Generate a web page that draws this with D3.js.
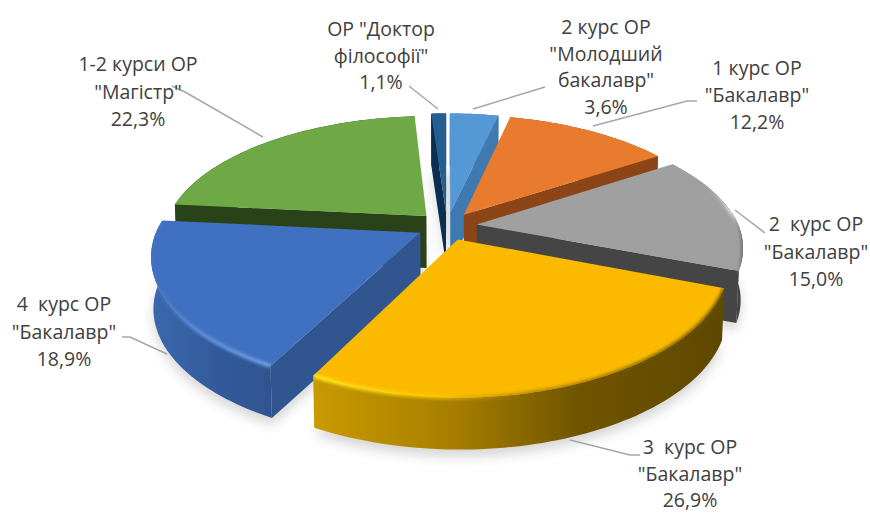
<!DOCTYPE html>
<html>
<head>
<meta charset="utf-8">
<script src="https://d3js.org/d3.v7.min.js"></script>
<style>
  html, body { margin: 0; background: #fff; }
  text { font-family: "Open Sans", sans-serif; font-size: 19.5px; fill: #404040; }
</style>
</head>
<body>
<div id="chart"></div>
<script>
// Values
const categories = ['2 курс ОР "Молодший бакалавр"', '1 курс ОР "Бакалавр"', '2 курс ОР "Бакалавр"',
  '3 курс ОР "Бакалавр"', '4 курс ОР "Бакалавр"', '1-2 курси ОР "Магістр"', 'ОР "Доктор філософії"'];
const shares = [3.6, 12.2, 15.0, 26.9, 18.9, 22.3, 1.1];
const labelLines = [
  ["2 курс ОР", "\"Молодший", "бакалавр\"", "3,6%"],
  ["1 курс ОР", "\"Бакалавр\"", "12,2%"],
  ["2  курс ОР", "\"Бакалавр\"", "15,0%"],
  ["3  курс ОР", "\"Бакалавр\"", "26,9%"],
  ["4  курс ОР", "\"Бакалавр\"", "18,9%"],
  ["1-2 курси ОР", "\"Магістр\"", "22,3%"],
  ["ОР \"Доктор", "філософії\"", "1,1%"]
];

// Styling per slice, same order as categories
const topColors = ["#5598d6", "#e97b2e", "#a0a0a0", "#fbba00", "#4070c0", "#6fa945", "#255e91"];
const wallColors = ["#3e79b0", "#8b4516", "#454545", "#9c7600", "#30558f", "#2a4218", "#0a2f52"];
const drawOrder = [6, 0, 5, 1, 2, 4, 3];

// Label placement: text centre, first baseline, leader points
const labelLayout = [
  { x: 606, y: 34, dy: 26.5, leader: [[473, 109], [545, 87]] },
  { x: 757, y: 75, dy: 27, leader: [[593, 126], [687, 101], [697, 101]] },
  { x: 816, y: 231, dy: 27.5, leader: [[735, 210], [765, 233]] },
  { x: 690, y: 454, dy: 26.5, leader: [[570, 440], [630, 455], [640, 455]] },
  { x: 64, y: 311, dy: 27.5, leader: [[167, 354], [130, 337], [122, 337]] },
  { x: 138, y: 71, dy: 27.5, leader: [[263, 137], [185, 92], [172, 86]] },
  { x: 381, y: 36, dy: 26.5, leader: [[438, 109], [409, 86]] }
];

// Projection of the tilted pie
const width = 870, height = 513;
const cx = 447, cy = 226;
const radius = 262, explode = 30, depth = 52;
const tilt = 0.467, perspective = 0.19, nearSpread = 0.17, wallTaper = 0.992;

function project(u, v, h) {
  var s = 1 / (1 - perspective * v / radius);
  var sx = v > 0 ? 1 / (1 - nearSpread * v / radius) : s;
  if (h) sx *= wallTaper;
  return [cx + sx * u, cy + s * tilt * v + (h || 0)];
}
function slicePoint(d, r, angle, h) {
  var mid = (d.startAngle + d.endAngle) / 2;
  var u = explode * Math.sin(mid) + r * Math.sin(angle);
  var v = -explode * Math.cos(mid) - r * Math.cos(angle);
  return project(u, v, h);
}
function arcPoints(d, h) {
  var n = Math.max(4, Math.ceil((d.endAngle - d.startAngle) * 40));
  return d3.range(n + 1).map(function (i) {
    return slicePoint(d, radius, d.startAngle + (d.endAngle - d.startAngle) * i / n, h);
  });
}

const color = d3.scaleOrdinal().domain(d3.range(shares.length)).range(topColors);
const wall = d3.scaleOrdinal().domain(d3.range(shares.length)).range(wallColors);
const slices = d3.pie().sort(null).value(function (d) { return d; })(shares);
const line = d3.line();
const closed = function (pts) { return line(pts) + "Z"; };

const svg = d3.select("#chart").append("svg").attr("width", width).attr("height", height)
  .style("display", "block");
const defs = svg.append("defs");

function addBlur(id, dev) {
  defs.append("filter").attr("id", id)
    .attr("x", "-20%").attr("y", "-20%").attr("width", "140%").attr("height", "140%")
    .append("feGaussianBlur").attr("stdDeviation", dev);
}
addBlur("shadow", 6);
addBlur("soft", 1.6);

function addGradient(id, stops) {
  var g = defs.append("linearGradient").attr("id", id);
  stops.forEach(function (s) {
    g.append("stop").attr("offset", s[0]).attr("stop-color", s[1]).attr("stop-opacity", s[2] === undefined ? 1 : s[2]);
  });
}
addGradient("wall3", [[0, "#c99a00"], [0.35, "#a67d00"], [0.65, "#6f5400"], [1, "#5e4800"]]);
addGradient("wall4", [[0, "#3a68ad"], [0.6, "#32599a"], [1, "#2f5490"]]);
addGradient("wall2", [[0, "#8a8a8a"], [0.5, "#5a5a5a"], [1, "#3f3f3f"]]);
addGradient("edge3", [[0, "#ffe51a"], [0.3, "#ffd000", 0.7], [0.55, "#7a5c00", 0.5], [1, "#6a5000", 0.8]]);
addGradient("edge4", [[0, "#4f7ecf", 0.1], [0.35, "#5c8ad8"], [1, "#6f9ee8"]]);
addGradient("edge2", [[0, "#bdbdbd", 0.2], [0.6, "#e0e0e0"], [1, "#6a6a6a"]]);
const outerFill = { 2: "url(#wall2)", 3: "url(#wall3)", 4: "url(#wall4)" };
const edgeStroke = { 2: "url(#edge2)", 3: "url(#edge3)", 4: "url(#edge4)" };

// Soft shadow on the ground under the pie
svg.append("g").attr("filter", "url(#shadow)").attr("opacity", 0.24)
  .selectAll("path").data(slices).enter().append("path")
  .attr("d", function (d) {
    return closed([slicePoint(d, 0, 0, depth + 7)].concat(arcPoints(d, depth + 7)));
  })
  .attr("fill", "#555");

drawOrder.forEach(function (i) {
  var d = slices[i];
  var g = svg.append("g").attr("class", "slice");
  var top = arcPoints(d, 0), bottom = arcPoints(d, depth);
  var apex = slicePoint(d, 0, 0, 0), apexLow = slicePoint(d, 0, 0, depth);
  var mid = slicePoint(d, radius * 0.6, (d.startAngle + d.endAngle) / 2, 0);
  var outerPath = closed(top.concat(bottom.slice().reverse()));
  var topPath = closed([apex].concat(top));

  // outer wall
  g.append("path").attr("d", outerPath).attr("fill", outerFill[i] || wall(i));

  // radial walls that face the viewer
  [[top[0], bottom[0]], [top[top.length - 1], bottom[bottom.length - 1]]].forEach(function (edge) {
    var ex = edge[0][0] - apex[0], ey = edge[0][1] - apex[1];
    var side = ex * (mid[1] - apex[1]) - ey * (mid[0] - apex[0]);
    if (ex * side < 0) {
      g.append("path").attr("d", closed([apex, edge[0], edge[1], apexLow])).attr("fill", wall(i));
    }
  });

  // top face
  g.append("path").attr("d", topPath).attr("fill", color(i));

  // bevel along the rim, kept inside the slice
  if (edgeStroke[i]) {
    var clip = defs.append("clipPath").attr("id", "clip" + i);
    clip.append("path").attr("d", topPath);
    clip.append("path").attr("d", outerPath);
    var rim = i === 2 ? top.slice(Math.floor(top.length * 0.3)) : top;
    g.append("g").attr("clip-path", "url(#clip" + i + ")")
      .append("path")
      .attr("d", line(rim))
      .attr("fill", "none")
      .attr("stroke", edgeStroke[i])
      .attr("stroke-width", 4)
      .attr("filter", "url(#soft)");
  }
});

// Leader lines
svg.append("g").selectAll("path").data(labelLayout).enter().append("path")
  .attr("d", function (d) { return line(d.leader); })
  .attr("fill", "none")
  .attr("stroke", "#a6a6a6")
  .attr("stroke-width", 1.5);

// Labels
const labels = svg.append("g").selectAll("text").data(labelLayout).enter().append("text")
  .attr("text-anchor", "middle")
  .attr("aria-label", function (d, i) { return categories[i]; });
labels.selectAll("tspan")
  .data(function (d, i) {
    return labelLines[i].map(function (t, j) { return { t: t, x: d.x, y: d.y + j * d.dy }; });
  })
  .enter().append("tspan")
  .attr("x", function (d) { return d.x; })
  .attr("y", function (d) { return d.y; })
  .style("white-space", "pre")
  .text(function (d) { return d.t; });
</script>
</body>
</html>
